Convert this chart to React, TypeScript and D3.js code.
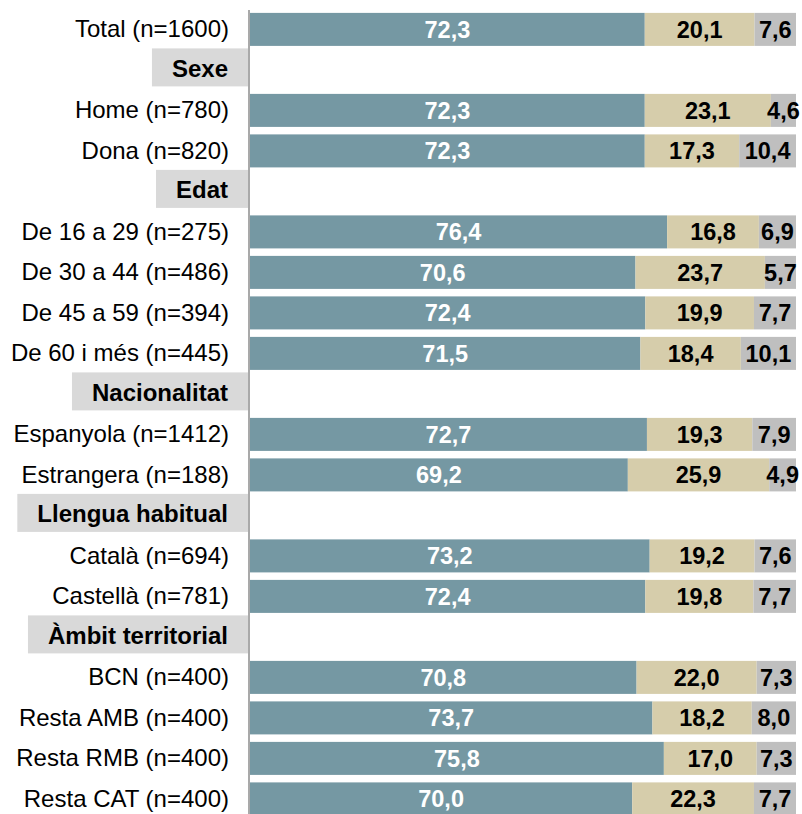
import React, { useEffect, useRef } from "react";
import * as d3 from "d3";

const rowLabels = [
  "Total (n=1600)",
  "Sexe",
  "Home (n=780)",
  "Dona (n=820)",
  "Edat",
  "De 16 a 29 (n=275)",
  "De 30 a 44 (n=486)",
  "De 45 a 59 (n=394)",
  "De 60 i més (n=445)",
  "Nacionalitat",
  "Espanyola (n=1412)",
  "Estrangera (n=188)",
  "Llengua habitual",
  "Català (n=694)",
  "Castellà (n=781)",
  "Àmbit territorial",
  "BCN (n=400)",
  "Resta AMB (n=400)",
  "Resta RMB (n=400)",
  "Resta CAT (n=400)",
];

const headerLabels = ["Sexe", "Edat", "Nacionalitat", "Llengua habitual", "Àmbit territorial"];

const series1 = [72.3, null, 72.3, 72.3, null, 76.4, 70.6, 72.4, 71.5, null, 72.7, 69.2, null, 73.2, 72.4, null, 70.8, 73.7, 75.8, 70.0];
const series2 = [20.1, null, 23.1, 17.3, null, 16.8, 23.7, 19.9, 18.4, null, 19.3, 25.9, null, 19.2, 19.8, null, 22.0, 18.2, 17.0, 22.3];
const series3 = [7.6, null, 4.6, 10.4, null, 6.9, 5.7, 7.7, 10.1, null, 7.9, 4.9, null, 7.6, 7.7, null, 7.3, 8.0, 7.3, 7.7];

const colors = ["#7598A3", "#D6CDAB", "#BFBFBF"];
const textColors = ["#ffffff", "#000000", "#000000"];

const W = 802;
const H = 814;
const FONT = "Arial, 'Liberation Sans', Helvetica, sans-serif";

export default function App() {
  const ref = useRef<SVGSVGElement | null>(null);

  useEffect(() => {
    const svg = d3.select(ref.current);
    svg.selectAll("*").remove();

    const x = d3.scaleLinear().domain([0, 100]).range([250, 796]);
    const step = 40.5;
    const top = 9.15;
    const y = d3
      .scaleBand<number>()
      .domain(rowLabels.map((_, i) => i))
      .range([top, top + step * rowLabels.length])
      .paddingInner(0.185)
      .paddingOuter(0.0925);

    const labelX = 229;
    const g = svg.append("g");

    rowLabels.forEach((lab, i) => {
      const cy = (y(i) as number) + y.bandwidth() / 2;
      if (headerLabels.includes(lab)) {
        const t = g
          .append("text")
          .attr("x", labelX - 1)
          .attr("y", cy - 1.5)
          .attr("dy", "0.35em")
          .attr("text-anchor", "end")
          .attr("font-family", FONT)
          .attr("font-size", 24)
          .attr("font-weight", "bold")
          .attr("fill", "#000")
          .text(lab);
        const w = (t.node() as SVGTextElement).getComputedTextLength();
        const bx = labelX - 1 - w - 20;
        g.insert("rect", "text")
          .attr("x", bx)
          .attr("y", cy - 21.5)
          .attr("width", 248 - bx)
          .attr("height", 38)
          .attr("fill", "#D9D9D9");
      } else {
        g.append("text")
          .attr("x", labelX)
          .attr("y", cy)
          .attr("dy", "0.32em")
          .attr("text-anchor", "end")
          .attr("font-family", FONT)
          .attr("font-size", 24)
          .attr("fill", "#000")
          .text(lab);

        const vals = [series1[i] as number, series2[i] as number, series3[i] as number];
        let acc = 0;
        vals.forEach((v, k) => {
          const x0 = x(acc);
          const x1 = k === 2 ? x(100) : x(acc + v);
          acc += v;
          g.append("rect")
            .attr("x", x0)
            .attr("y", y(i) as number)
            .attr("width", Math.max(0, x1 - x0))
            .attr("height", y.bandwidth())
            .attr("fill", colors[k]);
        });
        acc = 0;
        vals.forEach((v, k) => {
          const x0 = x(acc);
          const x1 = k === 2 ? x(100) : x(acc + v);
          acc += v;
          g.append("text")
            .attr("x", (x0 + x1) / 2)
            .attr("y", cy)
            .attr("dy", "0.36em")
            .attr("text-anchor", "middle")
            .attr("font-family", FONT)
            .attr("font-size", 23.5)
            .attr("font-weight", "bold")
            .attr("fill", textColors[k])
            .text(d3.format(".1f")(v).replace(".", ","));
        });
      }
    });

    g.append("line")
      .attr("x1", 249)
      .attr("x2", 249)
      .attr("y1", 10)
      .attr("y2", H)
      .attr("stroke", "#8C8C8C")
      .attr("stroke-width", 1.5);
  }, []);

  return (
    <svg
      ref={ref}
      width={W}
      height={H}
      style={{ position: "absolute", left: 0, top: 0, display: "block", background: "#fff" }}
    />
  );
}
